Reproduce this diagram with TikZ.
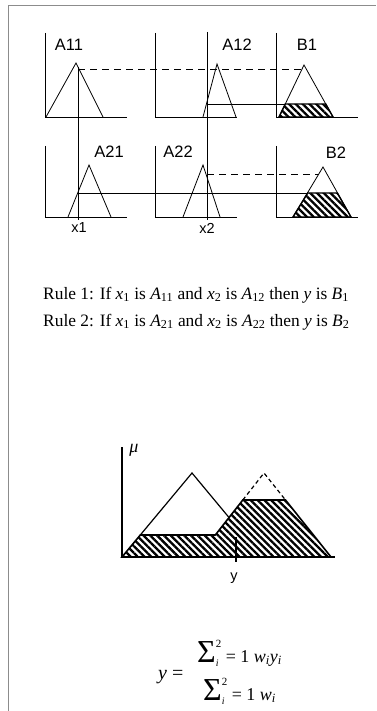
\documentclass[tikz,border=0pt]{standalone}
\usepackage{fontspec}
\setmainfont{Liberation Serif}
\newfontfamily\sansf{Liberation Sans}
\usetikzlibrary{patterns.meta}
\tikzset{
  ax/.style={line width=0.8pt},
  tri/.style={line width=0.8pt, line join=miter},
  link/.style={line width=0.8pt},
  dlink/.style={line width=0.8pt, dash pattern=on 7pt off 5pt},
  hatch/.style={pattern={Lines[angle=-45,distance=4.8pt,line width=2.3pt]}},
  lab/.style={font=\sansf\fontsize{16.5}{16.5}\selectfont, inner sep=0pt},
  xlab/.style={font=\sansf\fontsize{14.5}{14.5}\selectfont, inner sep=0pt},
  rule/.style={font=\fontsize{17.4}{17.4}\selectfont, inner sep=0pt, anchor=west},
  frame/.style={draw=black!45, line width=0.8pt},
}
\newcommand\fsum{{\fontsize{32}{32}\selectfont Σ}\rlap{\raisebox{-4pt}{\fontsize{10}{10}\selectfont\textit{i}}}\raisebox{15pt}{\fontsize{11}{11}\selectfont 2}}
\newcommand\sbi{\textsubscript{\textit{i}}}
\begin{document}
\begin{tikzpicture}[x=1pt,y=-1pt]
\useasboundingbox (0,0) rectangle (376,711);
% frame
\draw[frame] (8,711) -- (8,5) -- (376,5);
% ---------- row 1 ----------
\draw[ax] (45,33) -- (45,117) -- (127,117);
\draw[ax] (155,33) -- (155,117) -- (237,117);
\draw[ax] (276,33) -- (276,117) -- (358,117);
% row 2
\draw[ax] (45,146) -- (45,217) -- (127,217);
\draw[ax] (155,146) -- (155,217) -- (237,217);
\draw[ax] (276,146) -- (276,217) -- (358,217);
% hatched clipped consequents
\fill[hatch] (279,117) -- (285.25,104) -- (325.75,104) -- (333,117) -- cycle;
\fill[hatch] (293,217) -- (307.7,193) -- (337.3,193) -- (351,217) -- cycle;
% triangles
\draw[tri] (46,117) -- (76,63) -- (103,117);
\draw[tri] (203,117) -- (217,64) -- (236,117);
\draw[tri] (279,117) -- (304,65) -- (333,117);
\draw[tri] (68,217) -- (89,165) -- (111,217);
\draw[tri] (183,217) -- (203,165) -- (220,217);
\draw[tri] (293,217) -- (323,167) -- (351,217);
\draw[line width=1.4pt] (279,117) -- (285.25,104) -- (325.75,104) -- (333,117) -- cycle;
\draw[line width=1.4pt] (293,217) -- (307.7,193) -- (337.3,193) -- (351,217) -- cycle;
% input lines
\coordinate (x1top) at (78,67); \coordinate (x1bot) at (78,220);
\coordinate (x2top) at (207,32); \coordinate (x2bot) at (207,220);
\draw[link] (x1top) -- (x1bot);
\draw[link] (x2top) -- (x2bot);
% firing levels
\draw[dlink] (78,69) -- (302,69);
\draw[link] (207,104) -- (285.25,104);
\draw[link] (78,193) -- (307.7,193);
\draw[dlink] (207,174) -- (318.9,174);
% labels
\node[lab] (lA11) at (69,45) {A11};
\node[lab] (lA12) at (237,45) {A12};
\node[lab] (lB1) at (307,45) {B1};
\node[lab] (lA21) at (109,152) {A21};
\node[lab] (lA22) at (178,152) {A22};
\node[lab] (lB2) at (336,153) {B2};
\node[xlab] (lx1) at (79,228) {x1};
\node[xlab] (lx2) at (207,228) {x2};
% rules
\node[rule] (r1) at (43,295) {Rule 1: If \textit{x}\textsubscript{1} is \textit{A}\textsubscript{11} and \textit{x}\textsubscript{2} is \textit{A}\textsubscript{12} then \textit{y} is \textit{B}\textsubscript{1}};
\node[rule] (r2) at (43,322) {Rule 2: If \textit{x}\textsubscript{1} is \textit{A}\textsubscript{21} and \textit{x}\textsubscript{2} is \textit{A}\textsubscript{22} then \textit{y} is \textit{B}\textsubscript{2}};
% ---------- aggregated output ----------
\fill[hatch] (122,557) -- (140.3,535) -- (215.3,535) -- (242.8,500) -- (285.5,500) -- (331,557) -- cycle;
\draw[line width=1.2pt] (140.3,535) -- (192,473) -- (229,517.5);
\draw[line width=1.2pt, dash pattern=on 4pt off 3pt] (242.8,500) -- (264,473) -- (285.5,500);
\draw[line width=1.6pt, line join=miter] (122,557) -- (140.3,535) -- (215.3,535) -- (242.8,500) -- (285.5,500) -- (331,557) -- cycle;
\draw[line width=1.2pt] (122,447) -- (122,557) -- (335,557);
\coordinate (yt) at (236,537); \coordinate (yb) at (236,562);
\draw[line width=1.2pt] (yt) -- (yb);
\node[inner sep=0pt, font=\fontsize{18}{18}\selectfont\itshape] (mu) at (134,450) {μ};
\node[xlab] (ly) at (234,578) {y};
% formula
\node[inner sep=0pt, anchor=base west, font=\fontsize{20}{20}\selectfont] (fy) at (158,679) {\textit{y} =};
\node[inner sep=0pt, anchor=base west, font=\fontsize{18}{18}\selectfont] (fn) at (197,662) {\fsum\ = 1 \textit{w}\sbi\textit{y}\sbi};
\node[inner sep=0pt, anchor=base west, font=\fontsize{18}{18}\selectfont] (fd) at (203,700) {\fsum\ = 1 \textit{w}\sbi};
\end{tikzpicture}
\end{document}
